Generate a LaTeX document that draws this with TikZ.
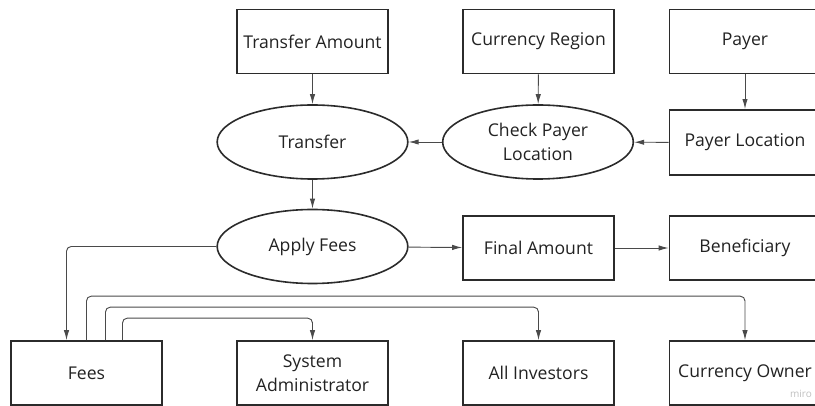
\documentclass[tikz,border=0pt]{standalone}
\usepackage{fontspec}
\setmainfont{Open Sans}
\usetikzlibrary{shapes.geometric,arrows.meta,calc}
\definecolor{ink}{HTML}{222222}
\definecolor{edge}{HTML}{2B2B2B}
\definecolor{wire}{HTML}{4A4A4A}
\begin{document}
\begin{tikzpicture}[x=0.75pt,y=-0.75pt,
  every node/.style={font=\fontsize{13.2}{18}\selectfont, text=ink, align=center},
  box/.style={draw=edge, line width=1.2pt, minimum width=113.25pt, minimum height=48pt, inner sep=0pt},
  oval/.style={ellipse, draw=edge, line width=1.2pt, minimum width=143pt, minimum height=55.5pt, inner sep=0pt},
  conn/.style={draw=wire, line width=0.7pt, -{Latex[length=7.5pt,width=4pt]}, rounded corners=3.5pt}]
\useasboundingbox (0,0) rectangle (815,406);
\clip (0,0) rectangle (815,406);

% inputs along the top row
\node[box] (amount) at (312.5,41.5) {Transfer Amount};
\node[box] (region) at (538.5,41.5) {Currency Region};
\node[box] (payer) at (745,41.5) {Payer};

% processing row
\node[oval] (transfer) at (312.5,142) {Transfer};
\node[oval] (check) at (538,142) {Check Payer\\Location};
\node[box, minimum height=49pt] (location) at (745,142.5) {Payer Location};

% fee application row
\node[oval] (apply) at (312.5,246.5) {Apply Fees};
\node[box] (final) at (538.5,248) {Final Amount};
\node[box] (beneficiary) at (745,248) {Beneficiary};

% recipients of the fees
\node[box] (fees) at (86.5,373) {Fees};
\node[box] (admin) at (312.5,373) {System\\Administrator};
\node[box] (investors) at (538.5,373) {All Investors};
\node[box] (owner) at (745,373) {Currency Owner};

\node[font=\fontsize{7.5}{9}\selectfont, text=black!25] (brand) at (801,394) {miro};

% main flow
\draw[conn] (amount) -- (transfer);
\draw[conn] (region) -- (check);
\draw[conn] (payer) -- (location);
\draw[conn] (location) -- (check);
\draw[conn] (check) -- (transfer);
\draw[conn] (transfer) -- (apply);
\draw[conn] (apply) -- (final);
\draw[conn] (final) -- (beneficiary);
\draw[conn] (apply.west) -| ($(fees.north)+(-20,0)$);

% fee distribution
\draw[conn] (fees.north) -- ++(0,-44) -| (owner.north);
\draw[conn] ($(fees.north)+(19,0)$) -- ++(0,-33) -| (investors.north);
\draw[conn] ($(fees.north)+(36,0)$) -- ++(0,-22) -| (admin.north);
\end{tikzpicture}
\end{document}
